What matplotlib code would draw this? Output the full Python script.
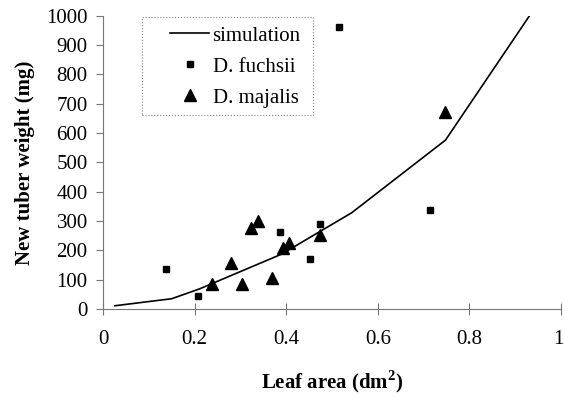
import matplotlib.pyplot as plt
from matplotlib import rcParams
from matplotlib.patches import Rectangle
from matplotlib.transforms import ScaledTranslation

rcParams['font.family'] = 'serif'
rcParams['font.serif'] = ['Liberation Serif', 'DejaVu Serif']
rcParams['font.size'] = 15
rcParams['mathtext.fontset'] = 'custom'
rcParams['mathtext.rm'] = 'Liberation Serif'
rcParams['mathtext.bf'] = 'Liberation Serif:bold'

# simulation curve
sim_x = [0.026, 0.15, 0.21, 0.39, 0.543, 0.748, 0.934]
sim_y = [11, 35, 68, 187, 328, 576, 1006]

# D. fuchsii (squares)
fuchsii_x = [0.138, 0.207, 0.386, 0.452, 0.474, 0.515, 0.715]
fuchsii_y = [135, 45, 264, 169, 291, 960, 338]

# D. majalis (triangles)
majalis_x = [0.237, 0.279, 0.303, 0.323, 0.338, 0.369, 0.394, 0.406, 0.474, 0.746]
majalis_y = [84, 158, 84, 275, 300, 105, 207, 224, 252, 672]

fig = plt.figure(figsize=(5.64, 3.97), dpi=100)
ax = fig.add_axes([0.1826, 0.2217, 0.812, 0.7388])

ax.plot(sim_x, sim_y, color='black', linewidth=1.2, label='simulation')
ax.plot(fuchsii_x, fuchsii_y, linestyle='none', marker='s', markersize=5,
        color='black', label='D. fuchsii')
ax.plot(majalis_x, majalis_y, linestyle='none', marker='^', markersize=9,
        color='black', label='D. majalis')

ax.set_xlim(0, 1)
ax.set_ylim(0, 1000)
ax.set_xticks([0, 0.2, 0.4, 0.6, 0.8, 1])
ax.set_xticklabels(['0', '0.2', '0.4', '0.6', '0.8', '1'])
ax.set_yticks(range(0, 1001, 100))

for s in ['top', 'right']:
    ax.spines[s].set_visible(False)
for s in ['left', 'bottom']:
    ax.spines[s].set_color('#777777')
    ax.spines[s].set_linewidth(0.8)

ax.tick_params(axis='y', direction='out', length=5, color='#777777', pad=6)
ax.tick_params(axis='x', direction='inout', length=8, color='#777777', pad=11)

# keep the last x tick label inside the figure edge
last = ax.get_xticklabels()[-1]
last.set_transform(last.get_transform() + ScaledTranslation(-3 / 100, 0, fig.dpi_scale_trans))

ax.set_xlabel('Leaf area (dm$^\\mathbf{2}$)', fontweight='bold', labelpad=14)
ax.set_ylabel('New tuber weight (mg)', fontweight='bold', labelpad=8)

# legend entries without their own frame, box drawn separately
leg = ax.legend(loc='upper left', bbox_to_anchor=(0.146, 0.965), frameon=False,
                handlelength=1.9, borderpad=0, labelspacing=0.55,
                handletextpad=0.15, borderaxespad=0)
box = Rectangle((0.085, 0.662), 0.3735, 0.335, transform=ax.transAxes,
                fill=False, edgecolor='#888888', linestyle=':', linewidth=0.8,
                clip_on=False)
ax.add_patch(box)

plt.savefig('out.png', dpi=100)
plt.close()
